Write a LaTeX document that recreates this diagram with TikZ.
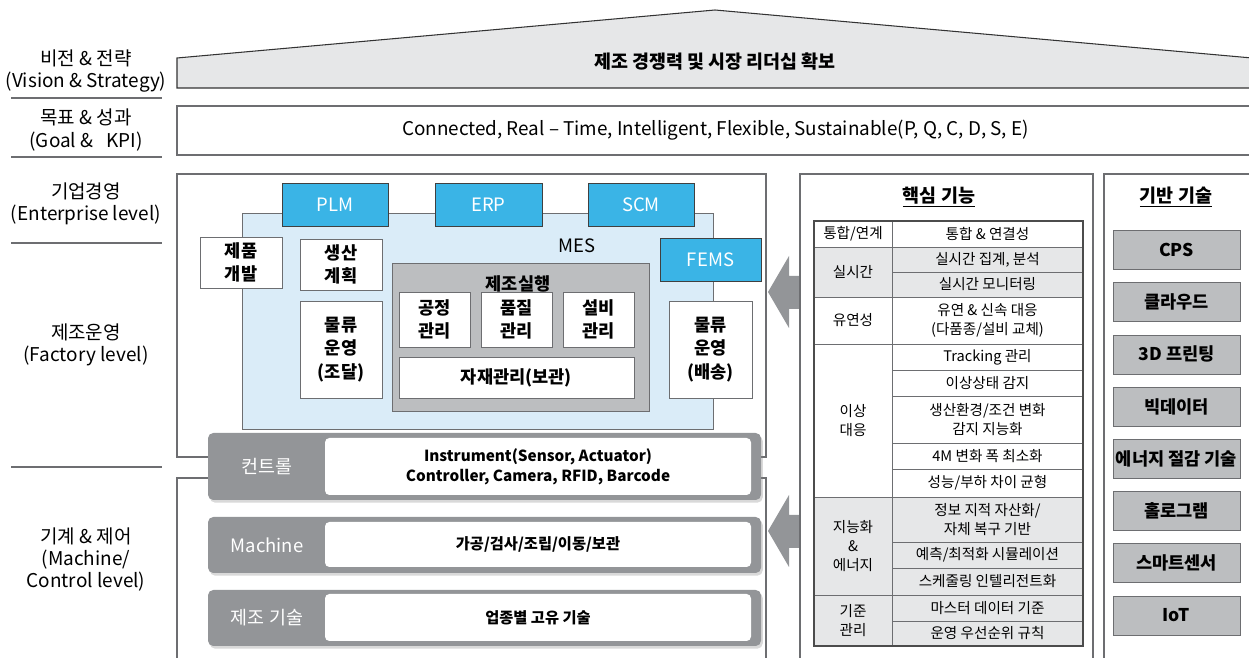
\documentclass[tikz,border=0pt]{standalone}
\usepackage{fontspec}
\setmainfont{Noto Sans CJK KR}
\usetikzlibrary{shadows}

\definecolor{sysblue}{RGB}{58,180,230}
\definecolor{mesblue}{RGB}{218,236,248}
\definecolor{execgray}{RGB}{188,190,192}
\definecolor{bargray}{RGB}{147,149,152}
\definecolor{rowgray}{RGB}{230,231,232}
\definecolor{linegray}{RGB}{109,110,113}

\begin{document}
\begin{tikzpicture}[x=0.02cm,y=-0.02cm,
    sz/.style 2 args={minimum width=#1*0.02cm,minimum height=#2*0.02cm},
    lvl/.style={align=center,font=\fontsize{10.8}{12.6}\selectfont},
    panelline/.style={draw=linegray,line width=0.6pt},
    box/.style={draw=linegray,fill=white,inner sep=0pt,align=center,
      font=\fontsize{10}{13.2}\selectfont\bfseries},
    sys/.style={draw=black!75,fill=sysblue,inner sep=0pt,text=white,
      font=\fontsize{10.5}{12}\selectfont},
    bar/.style={fill=bargray,rounded corners=3pt,inner sep=0pt,
      drop shadow={shadow xshift=1pt,shadow yshift=-1.5pt,opacity=0.3}},
    barin/.style={fill=white,rounded corners=2.5pt,inner sep=0pt,align=center,
      font=\fontsize{8.7}{11.3}\selectfont\bfseries},
    barlbl/.style={text=white,font=\fontsize{10.5}{12}\selectfont},
    cell/.style={align=center,inner sep=0pt,font=\fontsize{8.3}{10.8}\selectfont},
    tech/.style={draw=linegray,fill=execgray,inner sep=0pt,sz={127}{39},
      font=\fontsize{10}{12}\selectfont\bfseries}]

  \useasboundingbox (0,0) rectangle (1249,658);

  % Level labels on the left
  \node[lvl] (vision) at (86,71) {비전 \& 전략\\(Vision \& Strategy)};
  \node[lvl] (goal) at (86,130) {목표 \& 성과\\(Goal \& \ \ KPI)};
  \node[lvl] (ent) at (86,203.5) {기업경영\\(Enterprise level)};
  \node[lvl] (fac) at (86,345) {제조운영\\(Factory level)};
  \node[lvl] (mach) at (86,559.5) {기계 \& 제어\\(Machine/\\Control level)};
  \foreach \y in {98,157,243,467}
    \draw[linegray,line width=0.6pt] (11,\y) -- (162,\y);

  % Vision roof and goal band
  \draw[fill=rowgray,draw=black!80,line width=0.6pt]
    (177,88) -- (177,58) -- (715,10) -- (1252,58) -- (1252,88) -- cycle;
  \node[font=\fontsize{10.5}{12}\selectfont\bfseries] (roof) at (715,62)
    {제조 경쟁력 및 시장 리더십 확보};
  \node[panelline,inner sep=0pt,sz={1077}{49},font=\fontsize{10.75}{12}\selectfont]
    (goalband) at (715.5,130.5)
    {Connected, Real – Time, Intelligent, Flexible, Sustainable(P, Q, C, D, S, E)};

  % Enterprise / factory frame and machine frame
  \draw[panelline] (177,174) rectangle (766,457);
  \draw[panelline] (177,665) -- (177,478) -- (766,478) -- (766,665);

  % MES area
  \node[draw=linegray,fill=mesblue,sz={471}{216}] (mes) at (477.5,321) {};
  \node[font=\fontsize{10.5}{12}\selectfont] (meslbl) at (577,246) {MES};
  \node[sys,sz={106}{43}] (plm) at (335,204.5) {PLM};
  \node[sys,sz={107}{43}] (erp) at (488.5,204.5) {ERP};
  \node[sys,sz={106}{43}] (scm) at (641,204.5) {SCM};
  \node[sys,sz={101}{43}] (fems) at (710.5,259.5) {FEMS};

  \node[box,sz={82}{51}] (dev) at (241,262.5) {제품\\개발};
  \node[box,sz={82}{51}] (plan) at (341,264.5) {생산\\계획};
  \node[box,sz={82}{97}] (login) at (341,349.5) {물류\\운영\\(조달)};
  \node[box,sz={83}{97}] (logout) at (710.5,349.5) {물류\\운영\\(배송)};

  % Manufacturing execution block
  \node[draw=linegray,fill=execgray,sz={257}{148}] (exec) at (520.5,337) {};
  \node[font=\fontsize{10}{12}\selectfont\bfseries] (execlbl) at (518,284) {제조실행};
  \node[box,sz={71}{55}] (proc) at (434.5,319.5) {공정\\관리};
  \node[box,sz={71}{55}] (qual) at (516.5,319.5) {품질\\관리};
  \node[box,sz={71}{55}] (equip) at (598.5,319.5) {설비\\관리};
  \node[box,sz={235}{41}] (mat) at (516.5,377.5) {자재관리(보관)};

  % Machine / control bars
  \node[bar,sz={553}{67}] (ctrlbar) at (484.5,466.5) {};
  \node[barin,sz={426}{57}] (ctrlin) at (538,466.5)
    {Instrument(Sensor, Actuator)\\Controller, Camera, RFID, Barcode};
  \node[barlbl] (ctrllbl) at (267,466.5) {컨트롤};
  \node[bar,sz={553}{56}] (machbar) at (484.5,545) {};
  \node[barin,sz={426}{45}] (machin) at (538,544.5) {가공/검사/조립/이동/보관};
  \node[barlbl] (machlbl) at (267,545) {Machine};
  \node[bar,sz={553}{56}] (techbar) at (484.5,618) {};
  \node[barin,sz={426}{47}] (techin) at (538,617.5) {업종별 고유 기술};
  \node[barlbl] (techlbl) at (267,618) {제조 기술};

  % Big arrows towards the left
  \foreach \yc in {292,531}
    \fill[bargray] (768,\yc) -- (789,\yc-36) -- (789,\yc-16) -- (800,\yc-16)
      -- (800,\yc+17) -- (789,\yc+17) -- (789,\yc+36) -- cycle;

  % Core functions panel
  \draw[panelline] (800,665) -- (800,174) -- (1093,174) -- (1093,665);
  \node[font=\fontsize{10.5}{12}\selectfont\bfseries] (coretitle) at (939,197)
    {\underline{핵심 기능}};
  \foreach \ya/\yb in {247/297,497/646}
    \fill[rowgray] (814,\ya) rectangle (1083,\yb);
  \foreach \y in {247,272,297,344,370,396,443,469,497,542,568,595,621}
    \draw[linegray,line width=0.5pt] (892,\y) -- (1083,\y);
  \foreach \y in {247,297,344,497,595}
    \draw[linegray,line width=0.5pt] (814,\y) -- (892,\y);
  \draw[linegray,line width=0.5pt] (892,221) -- (892,646);
  \draw[black!70,line width=0.6pt] (814,221) rectangle (1083,646);

  \foreach \ya/\yb/\txt [count=\i] in {
    221/247/{통합 \& 연결성},
    247/272/{실시간 집계, 분석},
    272/297/{실시간 모니터링},
    297/344/{유연 \& 신속 대응\\(다품종/설비 교체)},
    344/370/{Tracking 관리},
    370/396/{이상상태 감지},
    396/443/{생산환경/조건 변화\\감지 지능화},
    443/469/{4M 변화 폭 최소화},
    469/497/{성능/부하 차이 균형},
    497/542/{정보 지적 자산화/\\자체 복구 기반},
    542/568/{예측/최적화 시뮬레이션},
    568/595/{스케줄링 인텔리전트화},
    595/621/{마스터 데이터 기준},
    621/646/{운영 우선순위 규칙}}
    \node[cell] (fn\i) at (987.5,{(\ya+\yb)/2}) {\txt};

  \foreach \ya/\yb/\txt [count=\i] in {
    221/247/{통합/연계},
    247/297/{실시간},
    297/344/{유연성},
    344/497/{이상\\대응},
    497/595/{지능화\\\&\\에너지},
    595/646/{기준\\관리}}
    \node[cell] (grp\i) at (853,{(\ya+\yb)/2}) {\txt};

  % Base technology panel
  \draw[panelline] (1104,665) -- (1104,174) -- (1254,174);
  \node[font=\fontsize{10.5}{12}\selectfont\bfseries] (basetitle) at (1176,197)
    {\underline{기반 기술}};
  \foreach \t [count=\i] in {CPS,클라우드,3D 프린팅,빅데이터,에너지 절감 기술,홀로그램,스마트센서,IoT}
    \node[tech] (tech\i) at (1176.5,{250+(\i-1)*52.2}) {\t};

\end{tikzpicture}
\end{document}
